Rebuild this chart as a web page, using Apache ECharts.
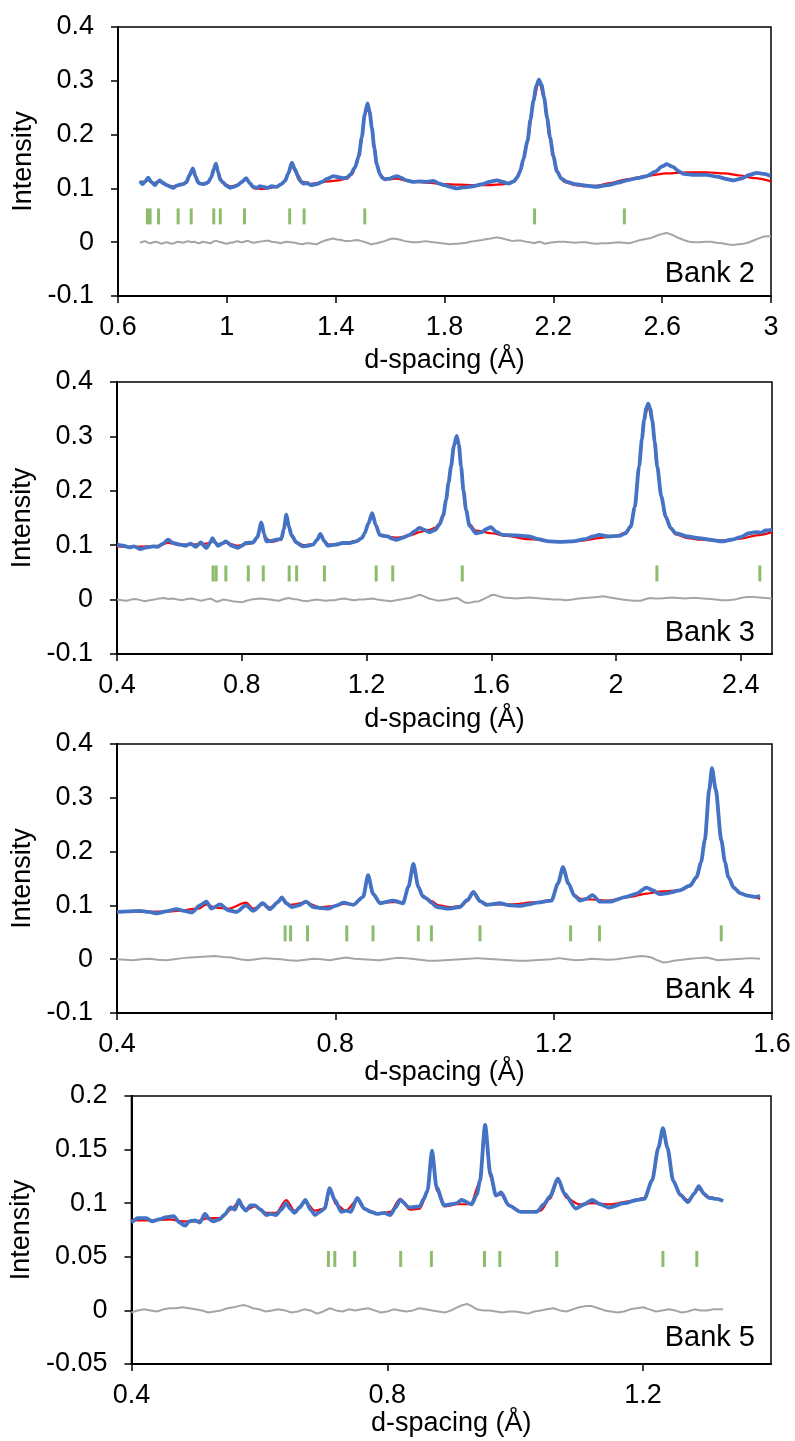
<!DOCTYPE html>
<html>
<head>
<meta charset="utf-8">
<script src="https://cdn.jsdelivr.net/npm/echarts@6/dist/echarts.min.js"></script>
<style>
html,body{margin:0;padding:0;background:#fff;}
#chart{width:795px;height:1441px;}
</style>
</head>
<body>
<div id="chart"></div>
<script>
// ---------------- DATA ----------------
const bankNames = ['Bank 2', 'Bank 3', 'Bank 4', 'Bank 5'];
const xRanges = [[0.6, 3.0, 0.4], [0.4, 2.5, 0.4], [0.4, 1.6, 0.4], [0.4, 1.4, 0.4]];
const yRanges = [[-0.1, 0.4, 0.1], [-0.1, 0.4, 0.1], [-0.1, 0.4, 0.1], [-0.05, 0.2, 0.05]];
const reflections = [0.708, 0.718, 0.749, 0.821, 0.869, 0.952, 0.976, 1.065, 1.231, 1.284, 1.507, 2.131, 2.461];
const tickLevel = [0.048, 0.048, 0.048, 0.048];

const bank2Obs = [[0.681,0.114],[0.69,0.108],[0.70,0.113],[0.711,0.120],[0.722,0.112],[0.736,0.106],[0.745,0.112],[0.754,0.115],[0.765,0.110],[0.78,0.106],[0.792,0.103],[0.803,0.101],[0.815,0.105],[0.827,0.107],[0.839,0.108],[0.852,0.112],[0.862,0.124],[0.875,0.137],[0.886,0.121],[0.895,0.111],[0.901,0.109],[0.915,0.108],[0.931,0.111],[0.942,0.120],[0.952,0.136],[0.960,0.146],[0.968,0.130],[0.976,0.116],[0.986,0.111],[0.998,0.105],[1.012,0.101],[1.025,0.103],[1.04,0.106],[1.055,0.112],[1.071,0.119],[1.084,0.110],[1.096,0.103],[1.11,0.101],[1.122,0.104],[1.133,0.103],[1.15,0.101],[1.165,0.104],[1.183,0.103],[1.2,0.108],[1.214,0.114],[1.226,0.128],[1.239,0.148],[1.25,0.136],[1.262,0.123],[1.272,0.113],[1.281,0.109],[1.295,0.110],[1.31,0.106],[1.33,0.108],[1.35,0.112],[1.37,0.118],[1.392,0.123],[1.41,0.121],[1.425,0.119],[1.441,0.120],[1.455,0.126],[1.471,0.139],[1.485,0.160],[1.496,0.195],[1.507,0.238],[1.517,0.258],[1.525,0.242],[1.533,0.213],[1.542,0.175],[1.551,0.145],[1.562,0.127],[1.572,0.119],[1.582,0.117],[1.6,0.118],[1.612,0.121],[1.625,0.123],[1.64,0.120],[1.66,0.115],[1.686,0.112],[1.71,0.113],[1.735,0.112],[1.759,0.114],[1.78,0.109],[1.8,0.106],[1.821,0.103],[1.845,0.100],[1.87,0.102],[1.906,0.104],[1.94,0.108],[1.965,0.112],[1.992,0.115],[2.015,0.112],[2.035,0.109],[2.055,0.113],[2.068,0.121],[2.078,0.132],[2.09,0.155],[2.105,0.188],[2.116,0.228],[2.127,0.263],[2.137,0.290],[2.147,0.302],[2.157,0.292],[2.166,0.269],[2.177,0.232],[2.188,0.195],[2.2,0.160],[2.213,0.132],[2.23,0.118],[2.25,0.112],[2.28,0.108],[2.32,0.105],[2.36,0.103],[2.4,0.106],[2.44,0.111],[2.47,0.115],[2.51,0.119],[2.544,0.123],[2.575,0.131],[2.6,0.141],[2.617,0.145],[2.64,0.140],[2.66,0.132],[2.678,0.127],[2.72,0.125],[2.764,0.125],[2.8,0.122],[2.84,0.117],[2.862,0.115],[2.89,0.118],[2.92,0.125],[2.948,0.129],[2.975,0.127],[2.997,0.123]];
const bank2Calc = [[0.681,0.112],[0.70,0.112],[0.711,0.116],[0.725,0.110],[0.754,0.112],[0.78,0.106],[0.803,0.104],[0.83,0.106],[0.852,0.110],[0.862,0.122],[0.875,0.135],[0.888,0.118],[0.9,0.109],[0.93,0.110],[0.945,0.122],[0.96,0.145],[0.972,0.122],[0.986,0.110],[1.012,0.104],[1.04,0.106],[1.055,0.111],[1.071,0.117],[1.086,0.108],[1.1,0.100],[1.13,0.099],[1.16,0.101],[1.19,0.104],[1.21,0.112],[1.226,0.128],[1.239,0.146],[1.252,0.130],[1.265,0.115],[1.28,0.112],[1.3,0.108],[1.33,0.110],[1.37,0.113],[1.41,0.115],[1.441,0.118],[1.46,0.126],[1.475,0.142],[1.49,0.175],[1.505,0.230],[1.517,0.256],[1.528,0.232],[1.54,0.185],[1.552,0.145],[1.565,0.125],[1.58,0.118],[1.6,0.117],[1.625,0.118],[1.66,0.114],[1.7,0.112],[1.75,0.110],[1.8,0.108],[1.85,0.107],[1.906,0.106],[1.96,0.106],[2.02,0.108],[2.055,0.113],[2.078,0.130],[2.105,0.186],[2.127,0.262],[2.147,0.300],[2.166,0.268],[2.188,0.192],[2.213,0.130],[2.24,0.112],[2.28,0.106],[2.32,0.104],[2.36,0.105],[2.41,0.110],[2.47,0.117],[2.54,0.123],[2.617,0.128],[2.69,0.130],[2.764,0.130],[2.83,0.128],[2.886,0.124],[2.94,0.119],[3.0,0.113]];
const bank2Diff = [[0.681,-0.001],[0.69,0.001],[0.70,0.002],[0.71,-0.001],[0.72,-0.002],[0.73,0.000],[0.74,0.001],[0.75,-0.001],[0.76,-0.003],[0.77,-0.001],[0.78,0.0],[0.79,-0.002],[0.80,-0.003],[0.81,-0.001],[0.82,0.001],[0.83,0.000],[0.84,-0.001],[0.85,0.001],[0.86,0.002],[0.87,0.000],[0.88,0.001],[0.89,-0.001],[0.90,-0.002],[0.91,0.001],[0.92,0.0],[0.93,-0.001],[0.94,-0.002],[0.95,0.001],[0.96,0.003],[0.97,0.001],[0.98,0.0],[0.99,-0.002],[1.0,-0.003],[1.01,-0.001],[1.02,-0.001],[1.03,0.001],[1.04,0.002],[1.05,0.000],[1.06,0.0],[1.07,0.002],[1.08,0.002],[1.09,0.000],[1.10,-0.001],[1.11,0.000],[1.12,0.001],[1.135,0.002],[1.15,0.003],[1.165,0.001],[1.18,0.0],[1.19,-0.001],[1.2,-0.002],[1.21,0.000],[1.22,0.001],[1.235,0.000],[1.25,-0.001],[1.265,-0.003],[1.28,-0.004],[1.29,-0.002],[1.3,-0.002],[1.315,-0.003],[1.33,-0.004],[1.345,0.000],[1.36,0.003],[1.375,0.005],[1.39,0.007],[1.405,0.005],[1.42,0.004],[1.435,0.002],[1.45,0.002],[1.465,0.003],[1.48,0.004],[1.495,0.002],[1.51,0.0],[1.52,-0.002],[1.53,-0.004],[1.54,-0.003],[1.55,-0.002],[1.565,0.000],[1.58,0.002],[1.595,0.005],[1.61,0.007],[1.625,0.006],[1.64,0.004],[1.655,0.002],[1.67,0.001],[1.685,0.000],[1.70,0.0],[1.715,0.001],[1.73,0.002],[1.745,0.001],[1.76,0.0],[1.775,-0.001],[1.79,-0.002],[1.805,-0.003],[1.82,-0.004],[1.835,-0.003],[1.85,-0.003],[1.865,-0.002],[1.88,-0.001],[1.895,0.001],[1.91,0.002],[1.925,0.003],[1.94,0.004],[1.955,0.006],[1.97,0.007],[1.98,0.008],[1.99,0.009],[2.005,0.008],[2.02,0.006],[2.035,0.004],[2.05,0.002],[2.065,0.003],[2.08,0.003],[2.09,0.002],[2.1,0.001],[2.115,0.000],[2.13,-0.002],[2.14,0.000],[2.15,0.001],[2.16,-0.001],[2.17,-0.003],[2.185,-0.001],[2.2,0.0],[2.22,0.001],[2.24,0.001],[2.26,0.000],[2.28,-0.001],[2.30,0.000],[2.32,0.0],[2.34,-0.002],[2.36,-0.003],[2.38,-0.002],[2.40,-0.002],[2.42,-0.001],[2.44,0.0],[2.46,-0.001],[2.48,-0.002],[2.50,0.001],[2.52,0.004],[2.54,0.006],[2.56,0.008],[2.575,0.011],[2.59,0.014],[2.605,0.016],[2.617,0.017],[2.63,0.015],[2.64,0.013],[2.655,0.009],[2.67,0.006],[2.685,0.003],[2.7,0.001],[2.72,0.000],[2.74,0.0],[2.76,0.001],[2.78,0.001],[2.80,-0.001],[2.82,-0.002],[2.84,-0.004],[2.86,-0.005],[2.88,-0.004],[2.9,-0.003],[2.92,0.000],[2.94,0.004],[2.955,0.007],[2.97,0.010],[2.985,0.011],[3.0,0.011]];

const bank3Obs = [[0.4,0.101],[0.42,0.099],[0.44,0.096],[0.455,0.098],[0.474,0.093],[0.495,0.096],[0.516,0.098],[0.53,0.097],[0.548,0.103],[0.564,0.110],[0.58,0.104],[0.602,0.101],[0.62,0.099],[0.636,0.103],[0.653,0.097],[0.668,0.105],[0.687,0.095],[0.7,0.106],[0.706,0.113],[0.715,0.105],[0.724,0.099],[0.737,0.103],[0.749,0.107],[0.768,0.099],[0.788,0.095],[0.8,0.099],[0.813,0.104],[0.836,0.105],[0.85,0.115],[0.863,0.142],[0.872,0.120],[0.879,0.107],[0.895,0.108],[0.911,0.110],[0.927,0.112],[0.935,0.130],[0.943,0.156],[0.951,0.135],[0.959,0.119],[0.975,0.105],[0.996,0.098],[1.012,0.099],[1.028,0.101],[1.042,0.110],[1.052,0.121],[1.064,0.108],[1.076,0.099],[1.1,0.101],[1.124,0.104],[1.145,0.104],[1.167,0.107],[1.185,0.113],[1.194,0.122],[1.206,0.140],[1.218,0.159],[1.23,0.137],[1.242,0.119],[1.255,0.117],[1.268,0.116],[1.282,0.112],[1.295,0.110],[1.318,0.114],[1.338,0.119],[1.355,0.126],[1.37,0.132],[1.385,0.128],[1.402,0.124],[1.42,0.128],[1.434,0.138],[1.446,0.155],[1.455,0.183],[1.463,0.215],[1.471,0.245],[1.48,0.282],[1.489,0.301],[1.496,0.285],[1.503,0.245],[1.511,0.200],[1.519,0.165],[1.53,0.136],[1.551,0.122],[1.57,0.124],[1.585,0.130],[1.599,0.133],[1.615,0.125],[1.636,0.119],[1.68,0.118],[1.722,0.116],[1.75,0.111],[1.786,0.107],[1.82,0.106],[1.86,0.107],[1.9,0.111],[1.925,0.116],[1.946,0.119],[1.975,0.116],[2.01,0.117],[2.03,0.122],[2.047,0.134],[2.06,0.170],[2.074,0.245],[2.083,0.295],[2.09,0.330],[2.097,0.352],[2.103,0.360],[2.11,0.350],[2.116,0.330],[2.124,0.290],[2.132,0.245],[2.145,0.190],[2.159,0.153],[2.175,0.132],[2.191,0.122],[2.23,0.116],[2.266,0.113],[2.3,0.110],[2.34,0.107],[2.37,0.110],[2.4,0.115],[2.426,0.122],[2.45,0.124],[2.465,0.123],[2.479,0.127],[2.5,0.128]];
const bank3Calc = [[0.4,0.098],[0.45,0.097],[0.5,0.098],[0.53,0.099],[0.564,0.104],[0.6,0.101],[0.636,0.101],[0.668,0.102],[0.7,0.104],[0.706,0.108],[0.72,0.102],[0.749,0.104],[0.788,0.099],[0.813,0.102],[0.836,0.104],[0.85,0.114],[0.863,0.140],[0.875,0.114],[0.895,0.106],[0.927,0.110],[0.935,0.128],[0.943,0.153],[0.952,0.130],[0.962,0.114],[0.98,0.104],[1.0,0.100],[1.028,0.102],[1.042,0.110],[1.052,0.119],[1.064,0.107],[1.08,0.101],[1.124,0.103],[1.167,0.108],[1.185,0.114],[1.194,0.122],[1.206,0.140],[1.218,0.157],[1.23,0.135],[1.242,0.120],[1.26,0.116],[1.3,0.114],[1.34,0.118],[1.37,0.124],[1.4,0.128],[1.42,0.132],[1.434,0.140],[1.446,0.158],[1.455,0.185],[1.463,0.215],[1.471,0.246],[1.48,0.281],[1.489,0.298],[1.496,0.283],[1.503,0.244],[1.511,0.198],[1.519,0.162],[1.53,0.139],[1.55,0.127],[1.6,0.122],[1.65,0.117],[1.72,0.111],[1.8,0.107],[1.86,0.107],[1.9,0.109],[1.946,0.113],[2.0,0.117],[2.03,0.123],[2.047,0.136],[2.06,0.172],[2.074,0.246],[2.09,0.330],[2.103,0.357],[2.116,0.328],[2.132,0.243],[2.145,0.188],[2.159,0.150],[2.175,0.130],[2.191,0.120],[2.23,0.113],[2.27,0.110],[2.34,0.109],[2.4,0.112],[2.45,0.118],[2.5,0.124]];
const bank3Diff = [[0.4,0.0],[0.415,-0.001],[0.43,-0.002],[0.445,0.000],[0.46,0.001],[0.475,-0.001],[0.49,-0.003],[0.505,-0.001],[0.52,0.0],[0.535,0.002],[0.55,0.003],[0.565,0.001],[0.58,0.002],[0.595,0.000],[0.61,-0.001],[0.625,0.001],[0.64,0.002],[0.655,0.000],[0.67,-0.002],[0.685,0.000],[0.70,0.002],[0.71,-0.001],[0.72,-0.004],[0.73,-0.002],[0.74,0.0],[0.755,-0.001],[0.77,-0.003],[0.785,-0.004],[0.80,-0.005],[0.815,-0.002],[0.83,0.0],[0.845,0.001],[0.86,0.002],[0.875,0.001],[0.89,0.0],[0.905,-0.001],[0.92,-0.002],[0.935,0.001],[0.95,0.003],[0.965,0.001],[0.98,0.0],[0.995,-0.002],[1.01,-0.003],[1.025,-0.001],[1.04,0.0],[1.055,-0.001],[1.07,-0.002],[1.085,-0.001],[1.1,-0.001],[1.115,0.001],[1.13,0.002],[1.145,0.000],[1.16,-0.001],[1.175,0.000],[1.19,0.0],[1.205,0.001],[1.22,0.002],[1.235,0.000],[1.25,-0.001],[1.265,-0.002],[1.28,-0.003],[1.295,-0.001],[1.31,0.0],[1.325,0.002],[1.34,0.003],[1.355,0.006],[1.37,0.009],[1.385,0.006],[1.40,0.002],[1.415,0.000],[1.43,-0.002],[1.445,-0.001],[1.46,0.0],[1.475,0.002],[1.49,0.003],[1.50,0.000],[1.51,-0.004],[1.52,-0.006],[1.53,-0.006],[1.545,-0.004],[1.56,-0.003],[1.575,0.001],[1.59,0.005],[1.60,0.008],[1.61,0.009],[1.625,0.006],[1.64,0.004],[1.66,0.003],[1.68,0.002],[1.70,0.003],[1.72,0.004],[1.74,0.003],[1.76,0.002],[1.78,0.001],[1.8,0.0],[1.82,0.000],[1.84,-0.001],[1.86,0.000],[1.88,0.002],[1.90,0.003],[1.92,0.004],[1.94,0.005],[1.96,0.006],[1.98,0.004],[2.0,0.002],[2.02,0.000],[2.04,-0.001],[2.06,-0.002],[2.08,-0.002],[2.095,0.001],[2.11,0.003],[2.125,0.002],[2.14,0.002],[2.16,0.003],[2.18,0.004],[2.20,0.003],[2.22,0.002],[2.24,0.003],[2.26,0.003],[2.28,0.002],[2.3,0.001],[2.32,0.000],[2.34,-0.001],[2.36,-0.001],[2.38,0.0],[2.40,0.003],[2.42,0.005],[2.44,0.005],[2.46,0.004],[2.48,0.003],[2.5,0.002]];

const bank4Obs = [[0.4,0.088],[0.42,0.089],[0.442,0.090],[0.458,0.088],[0.473,0.085],[0.49,0.089],[0.509,0.093],[0.523,0.090],[0.537,0.087],[0.552,0.100],[0.564,0.107],[0.573,0.094],[0.589,0.102],[0.604,0.091],[0.619,0.088],[0.636,0.100],[0.65,0.090],[0.667,0.104],[0.68,0.093],[0.695,0.106],[0.702,0.115],[0.71,0.104],[0.72,0.097],[0.733,0.100],[0.746,0.107],[0.76,0.097],[0.775,0.095],[0.787,0.094],[0.8,0.099],[0.815,0.105],[0.833,0.101],[0.851,0.116],[0.86,0.156],[0.869,0.122],[0.882,0.104],[0.906,0.109],[0.924,0.104],[0.934,0.135],[0.943,0.177],[0.952,0.135],[0.96,0.117],[0.967,0.113],[0.976,0.105],[0.986,0.097],[1.007,0.094],[1.028,0.097],[1.042,0.110],[1.053,0.125],[1.065,0.108],[1.077,0.101],[1.101,0.104],[1.12,0.100],[1.138,0.099],[1.155,0.102],[1.169,0.105],[1.196,0.109],[1.208,0.141],[1.217,0.171],[1.227,0.141],[1.238,0.118],[1.248,0.109],[1.26,0.112],[1.271,0.119],[1.285,0.107],[1.303,0.107],[1.333,0.116],[1.352,0.122],[1.37,0.133],[1.382,0.128],[1.394,0.121],[1.41,0.123],[1.431,0.128],[1.45,0.137],[1.462,0.153],[1.47,0.180],[1.477,0.222],[1.485,0.315],[1.49,0.355],[1.497,0.315],[1.507,0.222],[1.514,0.180],[1.52,0.153],[1.53,0.133],[1.541,0.123],[1.555,0.118],[1.571,0.116],[1.578,0.118]];
const bank4Calc = [[0.4,0.088],[0.45,0.088],[0.5,0.089],[0.55,0.094],[0.564,0.102],[0.58,0.096],[0.604,0.094],[0.636,0.105],[0.65,0.094],[0.667,0.102],[0.68,0.096],[0.702,0.112],[0.715,0.101],[0.746,0.105],[0.77,0.097],[0.8,0.099],[0.815,0.103],[0.833,0.102],[0.851,0.115],[0.86,0.153],[0.869,0.120],[0.882,0.105],[0.906,0.106],[0.924,0.106],[0.934,0.134],[0.943,0.175],[0.952,0.133],[0.962,0.114],[0.976,0.108],[0.99,0.100],[1.01,0.097],[1.03,0.099],[1.042,0.108],[1.053,0.123],[1.065,0.108],[1.08,0.102],[1.12,0.102],[1.17,0.106],[1.196,0.110],[1.208,0.140],[1.217,0.169],[1.227,0.140],[1.238,0.119],[1.25,0.112],[1.27,0.111],[1.3,0.109],[1.34,0.116],[1.37,0.122],[1.4,0.126],[1.43,0.128],[1.45,0.136],[1.462,0.151],[1.47,0.178],[1.477,0.220],[1.485,0.312],[1.49,0.351],[1.497,0.312],[1.507,0.220],[1.514,0.178],[1.52,0.151],[1.53,0.132],[1.545,0.122],[1.56,0.117],[1.578,0.112]];
const bank4Diff = [[0.4,0.0],[0.415,-0.001],[0.43,-0.002],[0.445,0.000],[0.46,0.001],[0.475,-0.001],[0.49,-0.002],[0.505,0.000],[0.52,0.002],[0.535,0.003],[0.55,0.004],[0.565,0.005],[0.58,0.006],[0.595,0.004],[0.61,0.003],[0.625,0.000],[0.64,-0.002],[0.655,0.000],[0.67,0.002],[0.685,0.001],[0.70,0.000],[0.715,-0.002],[0.73,-0.003],[0.745,-0.001],[0.76,0.001],[0.775,0.000],[0.79,-0.002],[0.805,0.001],[0.82,0.003],[0.835,0.001],[0.85,0.000],[0.865,-0.001],[0.88,-0.002],[0.895,0.000],[0.91,0.002],[0.925,0.002],[0.94,0.001],[0.955,-0.001],[0.97,-0.003],[0.985,-0.003],[1.0,-0.002],[1.015,-0.001],[1.03,0.0],[1.045,0.001],[1.06,0.002],[1.075,0.001],[1.09,0.000],[1.105,-0.001],[1.12,-0.002],[1.135,-0.003],[1.15,-0.003],[1.165,-0.002],[1.18,-0.001],[1.195,0.000],[1.21,0.002],[1.225,0.000],[1.24,-0.002],[1.255,-0.001],[1.27,0.001],[1.285,0.000],[1.30,-0.001],[1.315,0.000],[1.33,0.002],[1.345,0.004],[1.36,0.006],[1.37,0.005],[1.38,0.003],[1.39,-0.002],[1.40,-0.006],[1.41,-0.005],[1.42,-0.003],[1.435,-0.001],[1.45,0.001],[1.465,0.002],[1.48,0.003],[1.49,0.001],[1.50,-0.002],[1.515,-0.001],[1.53,0.0],[1.545,0.001],[1.56,0.002],[1.578,0.001]];

const bank5Obs = [[0.4,0.082],[0.41,0.086],[0.423,0.086],[0.433,0.083],[0.443,0.085],[0.455,0.087],[0.466,0.088],[0.475,0.082],[0.484,0.079],[0.49,0.083],[0.499,0.084],[0.507,0.082],[0.515,0.090],[0.522,0.085],[0.528,0.083],[0.538,0.085],[0.545,0.089],[0.555,0.096],[0.562,0.094],[0.568,0.103],[0.574,0.096],[0.579,0.093],[0.586,0.098],[0.593,0.098],[0.602,0.094],[0.611,0.089],[0.618,0.090],[0.626,0.089],[0.634,0.094],[0.642,0.100],[0.648,0.095],[0.655,0.091],[0.663,0.096],[0.672,0.103],[0.68,0.094],[0.687,0.089],[0.695,0.092],[0.702,0.095],[0.71,0.114],[0.718,0.103],[0.728,0.092],[0.736,0.093],[0.743,0.092],[0.753,0.105],[0.764,0.095],[0.774,0.092],[0.784,0.090],[0.795,0.091],[0.805,0.089],[0.813,0.096],[0.82,0.103],[0.835,0.096],[0.851,0.097],[0.857,0.104],[0.863,0.112],[0.87,0.149],[0.877,0.115],[0.889,0.098],[0.9,0.099],[0.909,0.100],[0.916,0.103],[0.932,0.099],[0.94,0.108],[0.945,0.121],[0.953,0.173],[0.961,0.128],[0.97,0.107],[0.978,0.110],[0.99,0.098],[1.008,0.092],[1.02,0.092],[1.034,0.092],[1.045,0.099],[1.054,0.106],[1.067,0.123],[1.077,0.109],[1.095,0.095],[1.108,0.099],[1.12,0.103],[1.133,0.099],[1.146,0.096],[1.171,0.100],[1.19,0.103],[1.202,0.104],[1.214,0.121],[1.224,0.152],[1.231,0.170],[1.238,0.152],[1.247,0.121],[1.258,0.108],[1.27,0.101],[1.28,0.109],[1.287,0.116],[1.295,0.109],[1.303,0.105],[1.315,0.104],[1.325,0.102]];
const bank5Calc = [[0.4,0.084],[0.43,0.084],[0.46,0.085],[0.48,0.083],[0.5,0.083],[0.52,0.086],[0.54,0.086],[0.555,0.094],[0.568,0.101],[0.58,0.094],[0.593,0.097],[0.61,0.091],[0.626,0.091],[0.642,0.103],[0.655,0.093],[0.672,0.101],[0.687,0.093],[0.702,0.095],[0.71,0.112],[0.72,0.099],[0.735,0.093],[0.753,0.103],[0.765,0.094],[0.79,0.090],[0.805,0.092],[0.82,0.104],[0.835,0.094],[0.851,0.095],[0.863,0.110],[0.87,0.147],[0.877,0.112],[0.889,0.097],[0.91,0.099],[0.93,0.099],[0.945,0.120],[0.953,0.171],[0.961,0.125],[0.97,0.108],[0.978,0.108],[0.99,0.098],[1.01,0.092],[1.04,0.093],[1.054,0.104],[1.067,0.121],[1.08,0.105],[1.1,0.099],[1.12,0.100],[1.15,0.099],[1.18,0.102],[1.202,0.105],[1.214,0.122],[1.224,0.153],[1.231,0.169],[1.238,0.151],[1.247,0.120],[1.258,0.107],[1.27,0.103],[1.287,0.113],[1.3,0.106],[1.325,0.102]];
const bank5Diff = [[0.4,-0.002],[0.41,0.000],[0.42,0.001],[0.43,0.000],[0.44,-0.001],[0.45,0.001],[0.46,0.002],[0.47,0.002],[0.48,0.003],[0.49,0.002],[0.5,0.001],[0.51,0.000],[0.52,-0.002],[0.53,-0.001],[0.54,0.000],[0.55,0.002],[0.56,0.003],[0.567,0.004],[0.575,0.005],[0.582,0.004],[0.59,0.002],[0.60,0.001],[0.61,-0.001],[0.62,0.000],[0.63,0.001],[0.64,0.000],[0.65,-0.002],[0.66,-0.001],[0.67,0.001],[0.68,0.000],[0.69,-0.003],[0.70,-0.001],[0.71,0.002],[0.72,0.000],[0.73,-0.001],[0.74,0.001],[0.75,0.000],[0.76,0.001],[0.77,0.002],[0.78,0.000],[0.79,-0.002],[0.80,-0.001],[0.81,0.001],[0.82,0.000],[0.83,-0.001],[0.84,0.000],[0.85,0.002],[0.86,0.001],[0.87,0.000],[0.88,-0.001],[0.89,-0.002],[0.90,0.000],[0.91,0.003],[0.918,0.005],[0.925,0.006],[0.932,0.004],[0.94,0.001],[0.95,0.000],[0.96,0.000],[0.97,-0.001],[0.98,-0.002],[0.99,-0.001],[1.0,-0.001],[1.01,-0.002],[1.02,-0.003],[1.03,-0.001],[1.04,0.000],[1.05,0.001],[1.06,0.002],[1.07,0.000],[1.08,-0.001],[1.09,0.001],[1.1,0.003],[1.11,0.004],[1.12,0.004],[1.13,0.002],[1.14,0.000],[1.15,-0.001],[1.16,-0.002],[1.17,-0.001],[1.18,0.001],[1.19,0.002],[1.2,0.003],[1.21,0.001],[1.22,-0.001],[1.23,0.000],[1.24,0.001],[1.25,0.000],[1.26,-0.002],[1.27,-0.001],[1.28,0.001],[1.29,0.000],[1.3,0.000],[1.31,0.001],[1.325,0.001]];

const obsSets = [bank2Obs, bank3Obs, bank4Obs, bank5Obs];
const calcSets = [bank2Calc, bank3Calc, bank4Calc, bank5Calc];
const diffSets = [bank2Diff, bank3Diff, bank4Diff, bank5Diff];

// ---------------- LAYOUT / STYLE ----------------
const FONT = '"Liberation Sans", Arial, sans-serif';
const grids = [
  {left: 118, top: 27, width: 653, height: 269},
  {left: 117, top: 382, width: 655, height: 272},
  {left: 117, top: 744, width: 655, height: 269},
  {left: 115, top: 1096, width: 656, height: 268}
];
const xNameGaps = [51, 52, 46, 44];
const bankLabelY = [274, 633, 990, 1338];
const hideMax = [false, true, false, true];

const option = {
  animation: false,
  backgroundColor: '#fff',
  textStyle: {fontFamily: FONT},
  grid: grids.map(g => Object.assign({show: true, borderColor: '#000', borderWidth: 1.5, backgroundColor: 'transparent'}, g)),
  xAxis: grids.map((g, i) => ({
    gridIndex: i, type: 'value',
    min: xRanges[i][0], max: xRanges[i][1], interval: xRanges[i][2],
    name: 'd-spacing (Å)', nameLocation: 'middle', nameGap: xNameGaps[i],
    nameTextStyle: {color: '#000', fontSize: 27, fontFamily: FONT},
    axisLine: {show: true, onZero: false, lineStyle: {color: '#000', width: 2}},
    axisTick: {show: true, length: 7, lineStyle: {color: '#000', width: 1.5}},
    axisLabel: {color: '#000', fontSize: 27, fontFamily: FONT, margin: 18, showMaxLabel: !hideMax[i]},
    splitLine: {show: false}
  })),
  yAxis: grids.map((g, i) => ({
    gridIndex: i, type: 'value',
    min: yRanges[i][0], max: yRanges[i][1], interval: yRanges[i][2],
    name: 'Intensity', nameLocation: 'middle', nameGap: 67,
    nameTextStyle: {color: '#000', fontSize: 27, fontFamily: FONT},
    axisLine: {show: true, onZero: false, lineStyle: {color: '#000', width: 2}},
    axisTick: {show: true, length: 7, lineStyle: {color: '#000', width: 1.5}},
    axisLabel: {color: '#000', fontSize: 27, fontFamily: FONT, margin: 24},
    splitLine: {show: false}
  })),
  graphic: bankNames.map((t, i) => ({
    type: 'text', z: 100,
    style: {text: t, x: 755, y: bankLabelY[i], align: 'right', verticalAlign: 'middle',
            font: '29px ' + FONT, fill: '#000'}
  })),
  series: []
};

for (let i = 0; i < 4; i++) {
  option.series.push({
    type: 'line', xAxisIndex: i, yAxisIndex: i, data: diffSets[i],
    showSymbol: false, smooth: false, lineStyle: {color: '#A5A5A5', width: 2}, z: 2
  });
  option.series.push({
    type: 'scatter', xAxisIndex: i, yAxisIndex: i,
    data: reflections.filter(d => d >= xRanges[i][0] && d <= xRanges[i][1]).map(d => [d, tickLevel[i]]),
    symbol: 'rect', symbolSize: [3, 16], itemStyle: {color: '#70AD47'}, z: 3
  });
  option.series.push({
    type: 'line', xAxisIndex: i, yAxisIndex: i, data: calcSets[i],
    showSymbol: false, smooth: 0.3, smoothMonotone: 'x', lineStyle: {color: '#FF0000', width: 2.2}, z: 4
  });
  option.series.push({
    type: 'line', xAxisIndex: i, yAxisIndex: i, data: obsSets[i],
    showSymbol: false, smooth: 0.25, smoothMonotone: 'x', lineStyle: {color: '#4472C4', width: 3.8}, z: 5
  });
}

const chart = echarts.init(document.getElementById('chart'), null, {renderer: 'canvas'});
chart.setOption(option);
</script>
</body>
</html>
